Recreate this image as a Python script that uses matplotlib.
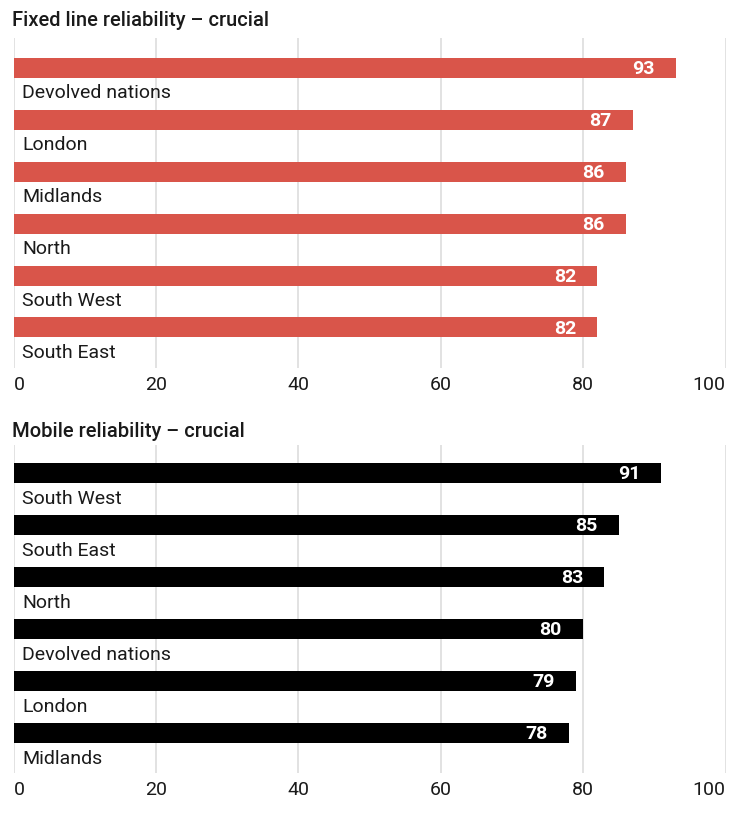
import matplotlib
matplotlib.use("Agg")
import matplotlib.pyplot as plt

fixed_regions = ["Devolved nations", "London", "Midlands", "North", "South West", "South East"]
fixed_values = [93, 87, 86, 86, 82, 82]
mobile_regions = ["South West", "South East", "North", "Devolved nations", "London", "Midlands"]
mobile_values = [91, 85, 83, 80, 79, 78]
ticks = [0, 20, 40, 60, 80, 100]
titles = ["Fixed line reliability \u2013 crucial", "Mobile reliability \u2013 crucial"]

W, H = 730, 823
plt.rcParams['font.family'] = ['Roboto', 'DejaVu Sans']
fig = plt.figure(figsize=(W / 100, H / 100), dpi=100)

FS = 14
x0, x1 = 13.5, 725.5
SP = 52.0


def panel(top_px, bot_px, first_center, regions, values, color, title, title_y):
    ax = fig.add_axes([x0 / W, 1 - bot_px / H, (x1 - x0) / W, (bot_px - top_px) / H])
    n = len(values)
    ys = list(range(n))
    ax.barh(ys, values, height=20 / SP, color=color, zorder=2)
    last_center = first_center + (n - 1) * SP
    ax.set_ylim((n - 1) + (bot_px - last_center) / SP, -(first_center - top_px) / SP)
    ax.set_xlim(0, 100)
    for y, v, r in zip(ys, values, regions):
        ax.text(v - 3.0, y + 0.02, str(v), color="white", fontsize=FS, fontweight="bold",
                ha="right", va="center", zorder=3)
        ax.text(1.2, y + 26 / SP, r, color="#1a1a1a", fontsize=FS,
                ha="left", va="center", zorder=3)
    ax.set_xticks(ticks)
    labels = ax.set_xticklabels([str(t) for t in ticks])
    labels[0].set_horizontalalignment("left")
    labels[-1].set_horizontalalignment("right")
    ax.xaxis.grid(True, color="#dddddd", linewidth=1.2, zorder=0)
    ax.set_yticks([])
    for s in ax.spines.values():
        s.set_visible(False)
    ax.tick_params(axis="x", length=0, pad=6, labelsize=FS, labelcolor="#1a1a1a")
    fig.text(12 / W, 1 - (title_y + 1) / H, title, fontsize=14.5, fontweight="medium",
             color="#1a1a1a", ha="left", va="center")
    return ax


panel(38, 368, 67.5, fixed_regions, fixed_values, "#d9554a", titles[0], 20)
panel(445, 773, 473, mobile_regions, mobile_values, "#000000", titles[1], 430)

fig.savefig("out.png", dpi=100)
